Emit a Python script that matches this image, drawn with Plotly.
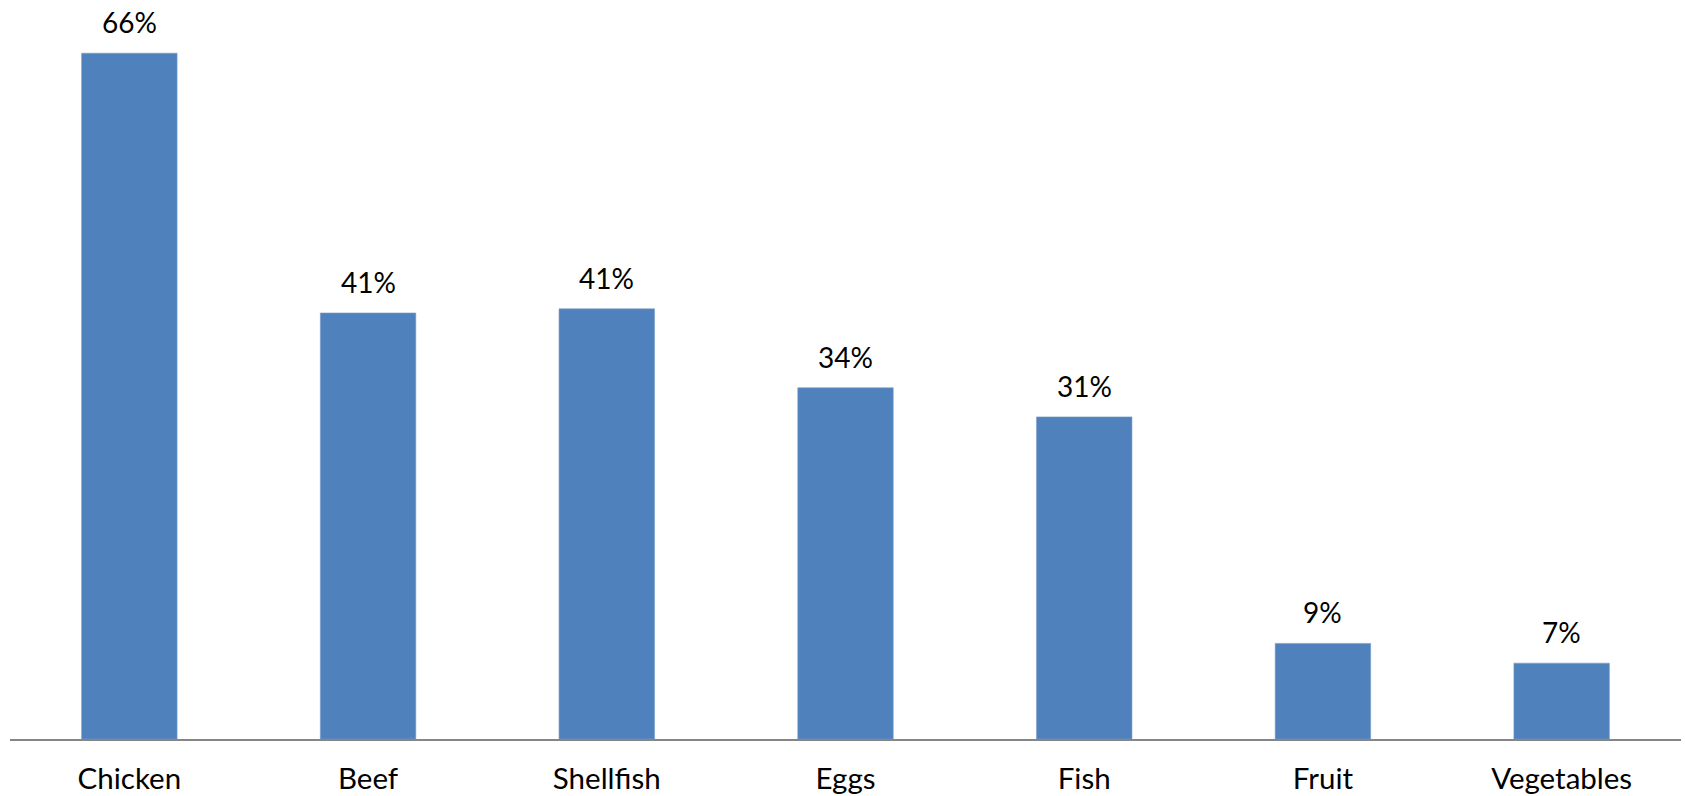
import plotly.graph_objects as go

categories = ["Chicken", "Beef", "Shellfish", "Eggs", "Fish", "Fruit", "Vegetables"]
values = [66.0, 41.0, 41.4, 33.8, 31.0, 9.2, 7.3]
labels = ["66%", "41%", "41%", "34%", "31%", "9%", "7%"]

BAR_COLOR = "#4F81BD"
FONT = "Lato"

fig = go.Figure(
    go.Bar(
        x=categories,
        y=values,
        marker=dict(color=BAR_COLOR, line=dict(color="#7A9CC8", width=0.6)),
        hoverinfo="skip",
    )
)

for c, v, t in zip(categories, values, labels):
    fig.add_annotation(
        x=c, y=v, text=t, showarrow=False, yanchor="bottom", yshift=17,
        height=26, borderpad=0, valign="middle",
        font=dict(family=FONT, size=28, color="#000000"),
    )

fig.update_layout(
    width=1685, height=796,
    margin=dict(l=10, r=4, t=8, b=57, autoexpand=False),
    paper_bgcolor="white", plot_bgcolor="white",
    bargap=0.6,
    showlegend=False,
    font=dict(family=FONT, size=29.5, color="#000000"),
    xaxis=dict(
        showline=True, linecolor="#868686", linewidth=1.5,
        ticks="", showgrid=False, zeroline=False, automargin=False,
        tickfont=dict(family=FONT, size=29.5, color="#000000"),
        ticklabelstandoff=13,
    ),
    yaxis=dict(
        range=[0, 70.35], visible=False, showgrid=False, zeroline=False,
        automargin=False,
    ),
)

fig.write_html(
    "out.html",
    config={"displayModeBar": False},
    post_script="document.body.style.margin='0px';document.body.style.overflow='hidden';",
)
